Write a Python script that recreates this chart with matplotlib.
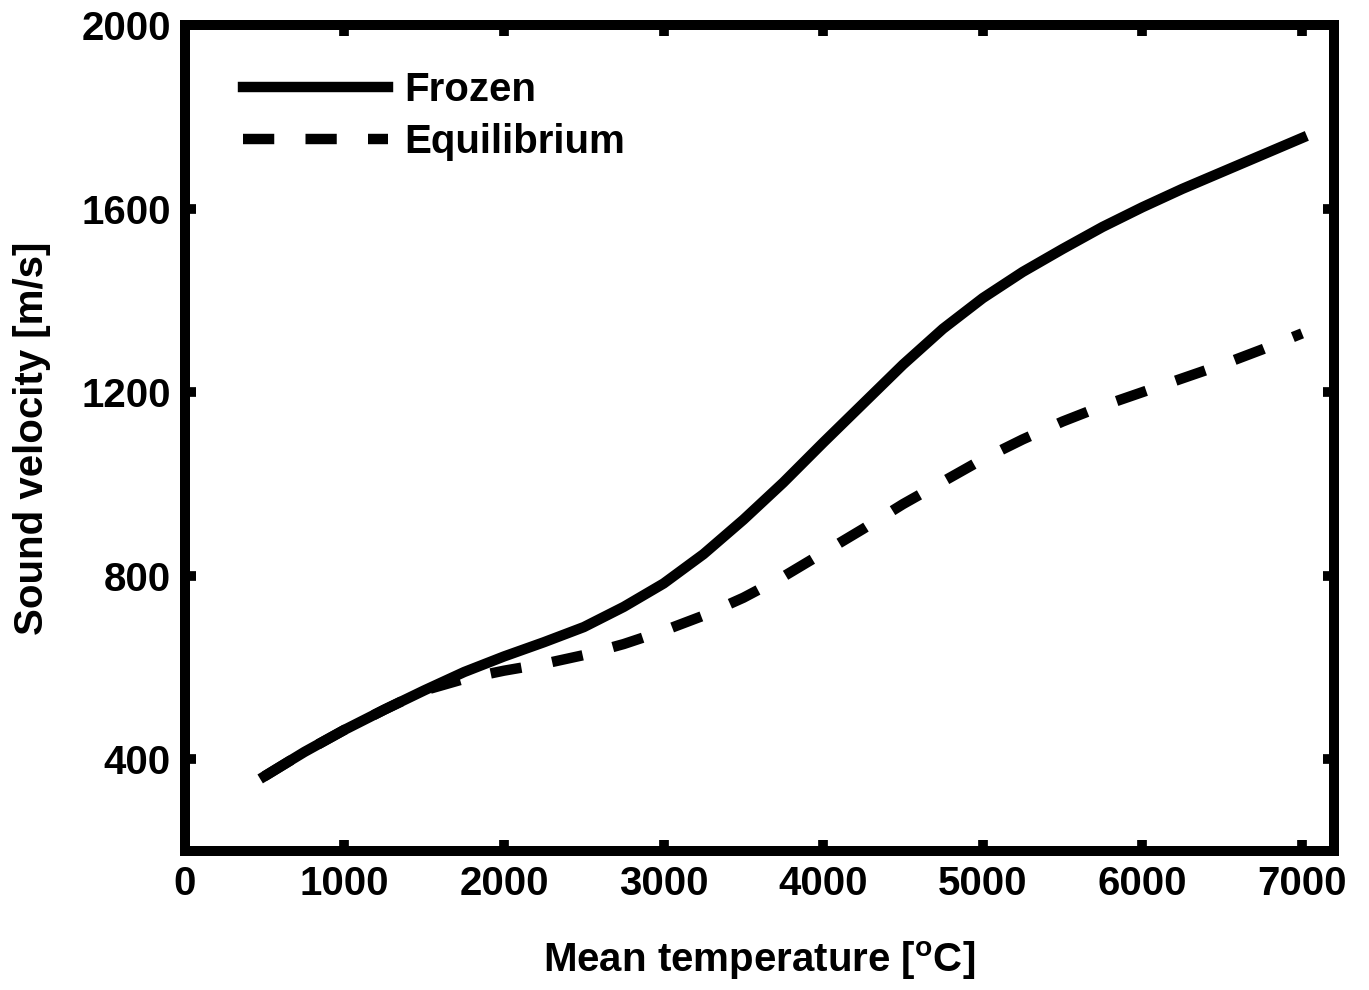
import numpy as np
import matplotlib
matplotlib.use("Agg")
import matplotlib.pyplot as plt

plt.rcParams['font.family'] = ['Liberation Sans', 'DejaVu Sans']
plt.rcParams['font.weight'] = 'bold'
plt.rcParams['mathtext.fontset'] = 'custom'
plt.rcParams['mathtext.rm'] = 'Liberation Sans:bold'
plt.rcParams['mathtext.bf'] = 'Liberation Sans:bold'

# temperature (C) and sound velocity (m/s)
temp_frozen = [500, 750, 1000, 1250, 1500, 1750, 2000, 2250, 2500, 2750, 3000,
               3250, 3500, 3750, 4000, 4250, 4500, 4750, 5000, 5250, 5500,
               5750, 6000, 6250, 6500, 6750, 7000]
vel_frozen = [363, 416, 464, 508, 550, 590, 624, 655, 688, 732, 783,
              847, 922, 1003, 1090, 1175, 1260, 1338, 1405, 1462, 1512,
              1560, 1603, 1643, 1680, 1717, 1754]

temp_equil = [500, 750, 1000, 1250, 1500, 1750, 2000, 2250, 2500, 2750, 3000,
              3250, 3500, 3750, 4000, 4250, 4500, 4750, 5000, 5250, 5500,
              5750, 6000, 6250, 6500, 6750, 7000]
vel_equil = [363, 416, 464, 508, 550, 575, 593, 608, 627, 651, 680,
             713, 752, 798, 850, 902, 956, 1005, 1054, 1097, 1136,
             1170, 1200, 1230, 1260, 1293, 1328]

fig = plt.figure(figsize=(13.69, 9.9), dpi=100)
ax = fig.add_axes([0.135, 0.1404, 0.8394, 0.8343])

ax.plot(temp_frozen, vel_frozen, color='black', lw=7.5, label='Frozen')
ax.plot(temp_equil, vel_equil, color='black', lw=7.5, ls=(0, (3, 3)),
        dash_capstyle='butt', label='Equilibrium')

ax.set_xlim(0, 7200)
ax.set_ylim(200, 2000)
ax.set_xticks(range(0, 7001, 1000))
ax.set_yticks([400, 800, 1200, 1600, 2000])

for s in ax.spines.values():
    s.set_linewidth(7.2)
ax.tick_params(direction='in', length=8, width=7, top=True, right=True,
               labelsize=29, pad=10)
for lab in ax.get_xticklabels() + ax.get_yticklabels():
    lab.set_fontweight('bold')

ax.set_xlabel(r'Mean temperature [$^{\mathrm{o}}$C]', fontsize=29,
              fontweight='bold', labelpad=26)
ax.set_ylabel('Sound velocity [m/s]', fontsize=29, fontweight='bold',
              labelpad=22)

leg = ax.legend(loc='upper left', bbox_to_anchor=(0.0105, 1.0), frameon=False,
                handlelength=3.6, handletextpad=0.4, labelspacing=0.35,
                borderaxespad=0.6, borderpad=0.55,
                prop={'weight': 'bold', 'size': 29})

fig.savefig('out.png', dpi=100)
